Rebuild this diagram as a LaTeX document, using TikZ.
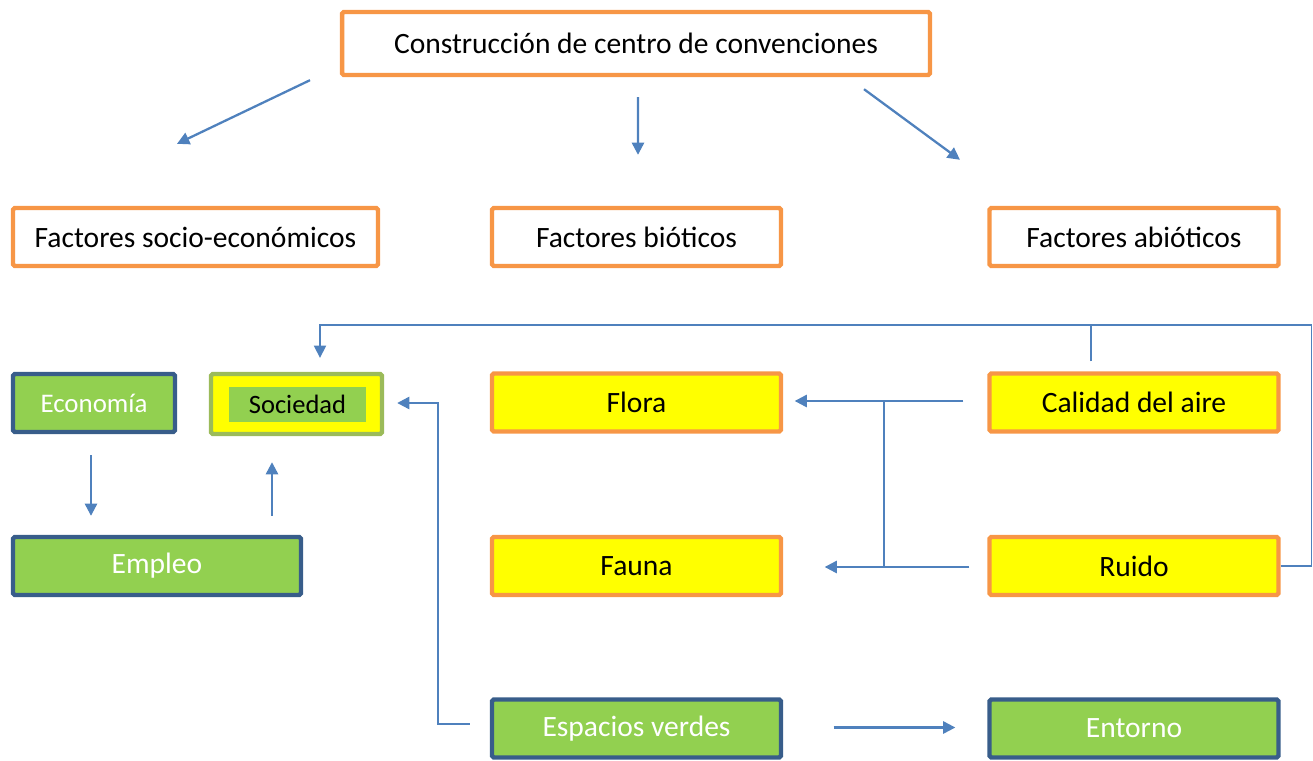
\documentclass[tikz,border=0pt]{standalone}
\usepackage{fontspec}
\setmainfont{Carlito}
\usetikzlibrary{arrows.meta, positioning, calc}
\definecolor{borde}{RGB}{247,150,70}
\definecolor{flecha}{RGB}{79,129,189}
\definecolor{azul}{RGB}{56,93,138}
\definecolor{verde}{RGB}{146,208,80}
\definecolor{oliva}{RGB}{155,187,89}
\definecolor{amarillo}{RGB}{255,255,0}

\begin{document}
\begin{tikzpicture}[
    x=0.02cm, y=-0.02cm,
    caja/.style={draw, rounded corners=1pt, line width=2.5pt, minimum height=1.16cm, align=center, font=\fontsize{16.8}{19}\selectfont, inner sep=0pt},
    factor/.style={caja, draw=borde, fill=white},
    abiotico/.style={caja, draw=borde, fill=amarillo},
    social/.style={caja, draw=azul, fill=verde, text=white},
    arrow/.style={-{Triangle[length=7pt,width=7pt]}, flecha, line width=1.3pt},
    link/.style={flecha, line width=0.9pt}
]
\useasboundingbox (0,0) rectangle (1313,761);

% Titulo
\node[factor, minimum width=11.76cm, minimum height=1.26cm] (top) at (636,43.5) {Construcción de centro de convenciones};

% Factores
\node[factor, minimum width=7.3cm] (socio) at (195.5,237) {Factores socio-económicos};
\node[factor, minimum width=5.78cm] (biotic) at (636.5,237) {Factores bióticos};
\node[factor, minimum width=5.78cm] (abiotic) at (1134,237) {Factores abióticos};

\draw[arrow] ($(top.south)+(-326,3)$) -- ($(socio.north)+(-18.5,-62)$);
\draw[arrow] ($(top.south)+(2,20)$) -- ($(biotic.north)+(1.5,-51)$);
\draw[arrow] ($(top.south)+(228,12)$) -- ($(abiotic.north)+(-174,-46)$);

% Socio-economicos
\node[social, minimum width=3.24cm, font=\fontsize{15.3}{18}\selectfont] (econ) at (94,403) {Economía};
\node[caja, draw=oliva, fill=amarillo, minimum width=3.42cm, minimum height=1.2cm] (soc) at (296.5,404) {};
\node[fill=verde, minimum width=2.74cm, minimum height=0.7cm, inner sep=0pt, font=\fontsize{15.1}{18}\selectfont] (socin) at (297.5,404.5) {Sociedad};
\node[social, minimum width=5.76cm] (empleo) at (157,566) {Empleo};

\draw[arrow] ($(econ.south)+(-3,21)$) -- ($(empleo.north)+(-66,-19)$);
\draw[arrow] ($(empleo.north)+(115,-19)$) -- ($(soc.south)+(-24.5,26)$);

% Bioticos y abioticos
\node[abiotico, minimum width=5.78cm] (flora) at (636.5,402.5) {Flora};
\node[abiotico, minimum width=5.78cm] (fauna) at (636.5,566) {Fauna};
\node[abiotico, minimum width=5.78cm] (aire) at (1134,402.5) {Calidad del aire};
\node[abiotico, minimum width=5.78cm] (ruido) at (1134,566) {Ruido};

\draw[arrow] ($(aire.west)+(-24,-1.5)$) -- ($(flora.east)+(11.5,-1.5)$);
\draw[arrow] ($(ruido.west)+(-18,1)$) -- ($(fauna.east)+(41.5,1)$);
\draw[link, line width=1.3pt] ($(flora.east)+(100.5,-1.5)$) -- ($(fauna.east)+(100.5,1)$);

\draw[arrow, line width=0.9pt] (ruido.east) -- ++(31,0) |- ($(soc.north)+(23.5,-47)$) -- ($(soc.north)+(23.5,-14)$);
\draw[link] ($(aire.north)+(-43,-10)$) -- ($(aire.north)+(-43,-47)$);

% Espacios verdes
\node[social, minimum width=5.78cm] (verdes) at (636.5,728.5) {Espacios verdes};
\node[social, minimum width=5.78cm] (entorno) at (1134,728.5) {Entorno};

\draw[arrow] ($(verdes.west)+(-20,-4.5)$) -| ($(soc.east)+(54,-1)$) -- ($(soc.east)+(13,-1)$);
\draw[arrow] ($(verdes.east)+(50.5,-1)$) -- ($(entorno.west)+(-32,-1)$);

\end{tikzpicture}
\end{document}
